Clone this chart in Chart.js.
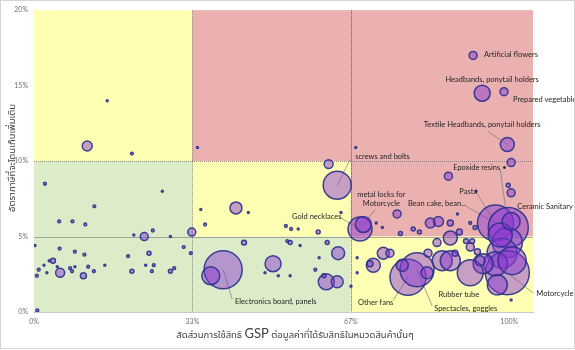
<!DOCTYPE html>
<html>
<head>
<meta charset="utf-8">
<script src="https://cdn.jsdelivr.net/npm/chart.js@4.4.1/dist/chart.umd.min.js"></script>
<style>
  html, body { margin: 0; padding: 0; background: #fff; }
  #wrap { width: 575px; height: 350px; position: relative; }
</style>
</head>
<body>
<div id="wrap"><canvas id="chart" width="575" height="350"></canvas></div>
<script>
// สัดส่วนการใช้สิทธิ GSP (x), อัตราภาษีที่จะโดนเก็บเพิ่ม (y), มูลค่าการค้า (ขนาดฟอง)
const shareUsed = [
  0.112, 0.154, 0.206, 0.023, 0.270, 0.127, 0.053, 0.081, 0.108, 0.232,
  0.332, 0.250, 0.210, 0.287, 0.002, 0.054, 0.086, 0.106, 0.198, 0.242,
  0.315, 0.330, 0.040, 0.032, 0.021, 0.010, 0.055, 0.104, 0.006, 0.027,
  0.049, 0.076, 0.080, 0.086, 0.114, 0.126, 0.149, 0.206, 0.235, 0.248,
  0.252, 0.287, 0.295, 0.007, 0.344, 0.677, 0.620, 0.638, 0.425, 0.351,
  0.451, 0.646, 0.360, 0.530, 0.541, 0.556, 0.598, 0.686, 0.693, 0.442,
  0.533, 0.539, 0.560, 0.617, 0.640, 0.503, 0.398, 0.372, 0.592, 0.600,
  0.486, 0.514, 0.539, 0.615, 0.638, 0.610, 0.667, 0.924, 0.943, 0.989,
  0.996, 1.004, 0.872, 0.998, 1.004, 0.930, 0.971, 0.998, 0.996, 0.985,
  0.996, 0.971, 0.945, 0.918, 0.859, 0.876, 0.876, 0.848, 0.834, 0.851,
  0.876, 0.798, 0.811, 0.764, 0.720, 0.891, 0.918, 0.928, 0.895, 0.909,
  0.922, 0.918, 0.933, 0.886, 0.829, 0.939, 0.787, 0.806, 0.827, 0.775,
  0.735, 0.749, 0.714, 0.707, 0.771, 0.733, 0.680, 0.680, 1.004, 0.981,
  1.006, 0.975, 1.004
]
const addedTax = [
  0.110, 0.140, 0.105, 0.085, 0.080, 0.070, 0.060, 0.060, 0.058, 0.050,
  0.053, 0.054, 0.051, 0.050, 0.044, 0.042, 0.040, 0.038, 0.037, 0.039,
  0.043, 0.039, 0.034, 0.034, 0.031, 0.028, 0.026, 0.024, 0.024, 0.026,
  0.030, 0.029, 0.027, 0.030, 0.030, 0.027, 0.031, 0.027, 0.031, 0.027,
  0.031, 0.027, 0.029, 0.001, 0.109, 0.109, 0.098, 0.084, 0.069, 0.068,
  0.066, 0.066, 0.058, 0.057, 0.055, 0.055, 0.053, 0.055, 0.058, 0.046,
  0.047, 0.046, 0.044, 0.046, 0.039, 0.032, 0.028, 0.024, 0.028, 0.036,
  0.026, 0.024, 0.024, 0.020, 0.020, 0.024, 0.017, 0.170, 0.145, 0.146,
  0.111, 0.099, 0.090, 0.084, 0.079, 0.080, 0.059, 0.056, 0.046, 0.039,
  0.026, 0.032, 0.032, 0.026, 0.034, 0.034, 0.049, 0.046, 0.059, 0.060,
  0.059, 0.055, 0.053, 0.065, 0.059, 0.065, 0.059, 0.056, 0.053, 0.047,
  0.047, 0.043, 0.040, 0.039, 0.039, 0.034, 0.023, 0.028, 0.026, 0.031,
  0.039, 0.039, 0.031, 0.032, 0.052, 0.056, 0.036, 0.026, 0.008, 0.051,
  0.034, 0.018, 0.060
]
const tradeValue = [
  25, 1, 2, 2, 1, 2, 2, 2, 2, 16,
  16, 2, 1, 1, 1, 2, 2, 2, 2, 4,
  2, 2, 6, 1, 1, 2, 20, 9, 2, 1,
  1, 2, 2, 1, 2, 2, 1, 4, 1, 2,
  2, 4, 2, 2, 1, 1, 20, 196, 36, 1,
  1, 1, 2, 2, 2, 1, 4, 144, 64, 6,
  2, 4, 1, 4, 42, 64, 361, 81, 2, 1,
  1, 1, 1, 64, 36, 4, 1, 16, 64, 16,
  49, 16, 16, 4, 16, 1, 324, 400, 225, 225,
  484, 144, 100, 169, 100, 100, 49, 16, 25, 25,
  9, 4, 4, 16, 1, 1, 2, 4, 9, 6,
  6, 16, 9, 9, 16, 25, 324, 289, 36, 36,
  36, 16, 49, 9, 4, 1, 1, 1, 1, 144,
  196, 100, 81
]

const xTicks = [0, 1 / 3, 2 / 3, 1]
const xCuts = [1 / 3, 2 / 3]
const yCuts = [0.05, 0.10]

// ป้ายชื่อสินค้า: ตำแหน่งข้อความ (หน่วยข้อมูล) และจุดที่ชี้
const callouts = [
  { text: ['Artificial flowers'], point: 77, x: 0.947, y: 0.1704, align: 'left' },
  { text: ['Headbands, ponytail holders'], point: 78, x: 0.964, y: 0.154, align: 'center' },
  { text: ['Prepared vegetable'], point: 79, x: 1.008, y: 0.141, align: 'left' },
  { text: ['Textile Headbands, ponytail holders'], point: 80, x: 0.943, y: 0.124, align: 'center', from: [0.954, 0.120] },
  { text: ['screws and bolts'], point: 47, x: 0.676, y: 0.103, align: 'left', from: [0.665, 0.101] },
  { text: ['Epoxide resins \u2022'], point: 87, x: 0.882, y: 0.0954, align: 'left', from: [0.981, 0.0947] },
  { text: ['Pasta'], point: 86, x: 0.895, y: 0.080, align: 'left', from: [0.933, 0.078] },
  { text: ['Bean cake, bean...'], point: 86, x: 0.787, y: 0.072, align: 'left', from: [0.909, 0.070] },
  { text: ['Ceramic Sanitary'], point: 87, x: 1.017, y: 0.0697, align: 'left', from: [1.013, 0.068] },
  { text: ['metal locks for', 'Motorcycle'], point: 58, x: 0.731, y: 0.0776, align: 'center', from: [0.718, 0.068] },
  { text: ['Gold necklaces'], point: 57, x: 0.543, y: 0.063, align: 'left', from: [0.642, 0.063] },
  { text: ['Electronics board, panels'], point: 66, x: 0.423, y: 0.0072, align: 'left', from: [0.417, 0.0086] },
  { text: ['Other fans'], point: 116, x: 0.682, y: 0.006, align: 'left', from: [0.756, 0.0079] },
  { text: ['Rubber tube'], point: 93, x: 0.851, y: 0.0118, align: 'left' },
  { text: ['Spectacles, goggles'], point: 117, x: 0.842, y: 0.002, align: 'left', from: [0.838, 0.0039] },
  { text: ['Motorcycle'], point: 90, x: 1.057, y: 0.0125, align: 'left', from: [1.051, 0.0125] }
]

const xTitle = ['สัดส่วนการใช้สิทธิ ', 'GSP', ' ต่อมูลค่าที่ได้รับสิทธิในหมวดสินค้านั้นๆ']
const yTitle = 'อัตราภาษีที่จะโดนเก็บเพิ่มเติม'

const LATIN = "'Liberation Sans Narrow', Lato, 'Noto Sans', sans-serif"
const THAI = "'Noto Sans Thai', 'Noto Sans', 'DejaVu Sans', sans-serif"
const YELLOW = '#ffffb4'
const PINK = '#ebb0b0'
const GREEN = '#dcebc8'

const points = shareUsed.map((x, i) => ({ x, y: addedTax[i], r: Math.sqrt(tradeValue[i]) }))

// พื้นหลังแบ่งโซน + เส้นแบ่ง
const zonePlugin = {
  id: 'zones',
  beforeDatasetsDraw(chart) {
    const { ctx, chartArea: a, scales: { x, y } } = chart
    const px = v => x.getPixelForValue(v)
    const py = v => y.getPixelForValue(v)
    const x1 = px(xCuts[0]), x2 = px(xCuts[1])
    const y5 = py(yCuts[0]), y10 = py(yCuts[1])
    ctx.save()
    const fill = (c, l, t, r, b) => { ctx.fillStyle = c; ctx.fillRect(l, t, r - l, b - t) }
    fill(YELLOW, a.left, a.top, x1, y10)
    fill(GREEN, a.left, y10, x1, a.bottom)
    fill(PINK, x1, a.top, a.right, y10)
    fill(YELLOW, x1, y10, x2, y5)
    fill(GREEN, x1, y5, x2, a.bottom)
    fill(PINK, x2, y10, a.right, y5)
    fill(YELLOW, x2, y5, a.right, a.bottom)

    ctx.lineWidth = 1
    ctx.strokeStyle = 'rgba(110,110,110,0.55)'
    ctx.beginPath(); ctx.moveTo(a.left, Math.round(y5) + 0.5); ctx.lineTo(a.right, Math.round(y5) + 0.5); ctx.stroke()
    ctx.setLineDash([1, 1])
    ctx.strokeStyle = 'rgba(100,100,100,0.7)'
    ctx.beginPath(); ctx.moveTo(a.left, Math.round(y10) + 0.5); ctx.lineTo(a.right, Math.round(y10) + 0.5); ctx.stroke()
    ctx.strokeStyle = 'rgba(90,90,90,0.7)'
    ctx.beginPath(); ctx.moveTo(Math.round(x1) + 0.5, a.top); ctx.lineTo(Math.round(x1) + 0.5, a.bottom); ctx.stroke()
    ctx.strokeStyle = 'rgba(70,70,70,0.85)'
    ctx.beginPath(); ctx.moveTo(Math.round(x2) + 0.5, a.top); ctx.lineTo(Math.round(x2) + 0.5, a.bottom); ctx.stroke()
    ctx.setLineDash([])

    // เส้นโยงป้าย (วาดใต้ฟอง)
    ctx.strokeStyle = 'rgba(120,120,120,0.85)'
    ctx.lineWidth = 0.8
    callouts.forEach(c => {
      if (!c.from) return
      ctx.beginPath()
      ctx.moveTo(px(c.from[0]), py(c.from[1]))
      ctx.lineTo(px(shareUsed[c.point]), py(addedTax[c.point]))
      ctx.stroke()
    })
    ctx.restore()
  },
  afterDraw(chart) {
    const { ctx, scales: { x, y } } = chart
    ctx.save()
    ctx.fillStyle = '#262626'
    ctx.font = '7.5px ' + LATIN
    ctx.textBaseline = 'middle'
    callouts.forEach(c => {
      ctx.textAlign = c.align
      c.text.forEach((t, k) => ctx.fillText(t, x.getPixelForValue(c.x), y.getPixelForValue(c.y) + k * 9))
    })

    // ชื่อแกน x (GSP ตัวใหญ่)
    const fonts = ['9.5px ' + THAI, '13px ' + LATIN, '9.5px ' + THAI]
    let total = 0
    const widths = xTitle.map((t, i) => { ctx.font = fonts[i]; const w = ctx.measureText(t).width; total += w; return w })
    let cx = 295 - total / 2
    ctx.textAlign = 'left'
    ctx.textBaseline = 'alphabetic'
    ctx.fillStyle = '#404040'
    xTitle.forEach((t, i) => { ctx.font = fonts[i]; ctx.fillText(t, cx, 338); cx += widths[i] })

    // ชื่อแกน y
    ctx.translate(13, 158)
    ctx.rotate(-Math.PI / 2)
    ctx.font = '9.5px ' + THAI
    ctx.textAlign = 'center'
    ctx.textBaseline = 'middle'
    ctx.fillText(yTitle, 0, 0)
    ctx.restore()

    // กรอบภาพ
    ctx.save()
    ctx.strokeStyle = '#d4d4d4'
    ctx.lineWidth = 1
    ctx.strokeRect(0.5, 0.5, 574, 348)
    ctx.restore()
  }
}

new Chart(document.getElementById('chart'), {
  type: 'bubble',
  data: {
    datasets: [{
      data: points,
      backgroundColor: 'rgba(135,55,210,0.48)',
      borderColor: 'rgba(40,50,140,0.9)',
      borderWidth: 1.5
    }]
  },
  options: {
    responsive: false,
    animation: false,
    events: [],
    layout: { autoPadding: false, padding: { left: 0, right: 42, top: 8, bottom: 0 } },
    plugins: { legend: { display: false }, tooltip: { enabled: false } },
    scales: {
      x: {
        type: 'linear',
        min: 0,
        max: 1.05,
        afterBuildTicks: s => { s.ticks = xTicks.map(v => ({ value: v })) },
        afterFit: s => { s.height = 38 },
        grid: { display: false, drawTicks: false },
        border: { display: true, color: 'rgba(150,150,150,0.5)' },
        ticks: {
          color: '#707070',
          font: { size: 7, family: LATIN },
          padding: 6,
          maxRotation: 0,
          callback: v => Math.round(v * 100) + '%'
        }
      },
      y: {
        min: 0,
        max: 0.2,
        afterFit: s => { s.width = 34 },
        grid: { display: false, drawTicks: false },
        border: { display: true, color: 'rgba(150,150,150,0.5)' },
        ticks: {
          stepSize: 0.05,
          color: '#707070',
          font: { size: 7, family: LATIN },
          padding: 6,
          callback: v => Math.round(v * 100) + '%'
        }
      }
    }
  },
  plugins: [zonePlugin]
})
</script>
</body>
</html>
